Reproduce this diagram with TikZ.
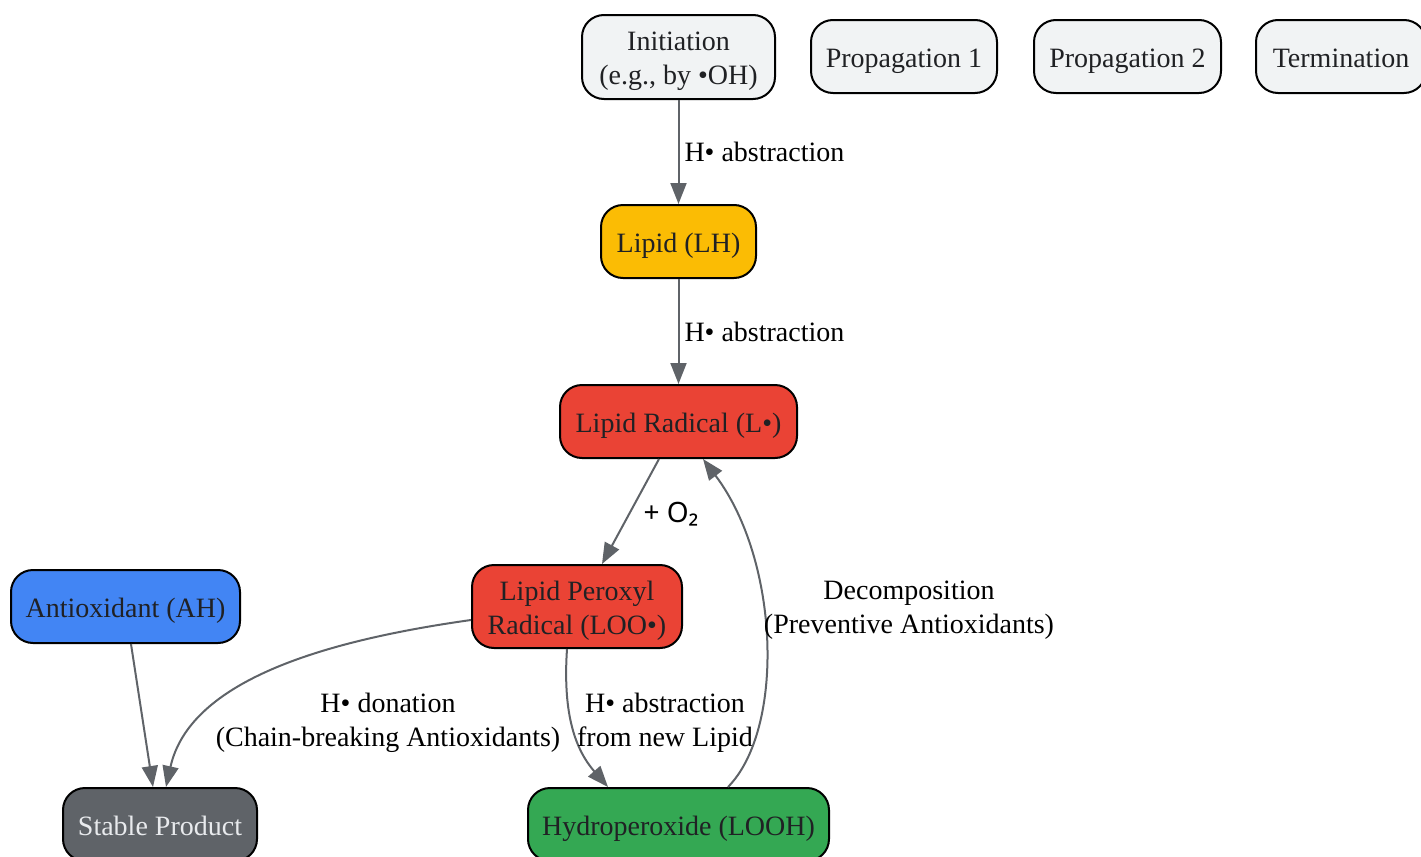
\documentclass[tikz,border=0pt]{standalone}
\usepackage{fontspec}
\setmainfont{Liberation Serif}
\newfontfamily\subsfont{Noto Sans}
\usepackage{tikz}
\usetikzlibrary{arrows.meta}
\definecolor{stagegray}{HTML}{F1F3F4}
\definecolor{nodetext}{HTML}{202124}
\definecolor{lipidyellow}{HTML}{FBBC04}
\definecolor{radicalred}{HTML}{EA4335}
\definecolor{antiblue}{HTML}{4285F4}
\definecolor{productgray}{HTML}{5F6368}
\definecolor{producttext}{HTML}{E8EAED}
\definecolor{hydrogreen}{HTML}{34A853}
\definecolor{edgegray}{HTML}{5F6368}
\tikzset{
  stage/.style={draw=black, line width=1pt, rounded corners=11pt, fill=stagegray,
    text=nodetext, align=center, minimum height=36.5pt, inner sep=0pt,
    text height=13.5pt, text depth=3pt},
  twoline/.style={text height=30.5pt, minimum height=42pt},
  flow/.style={draw=edgegray, line width=1pt,
    -{Triangle[length=10.5pt,width=8pt,fill=edgegray]}},
  flowlabel/.style={text=black, align=center, inner sep=2pt}
}
\begin{document}
\begin{tikzpicture}[x=0.5pt, y=-0.5pt, font=\fontsize{14}{17}\selectfont]
    \useasboundingbox (0,0) rectangle (1421,857);
    % legend row
    \node[stage, twoline, minimum width=96.5pt] (init) at (678.5,57) {Initiation\\(e.g., by •OH)};
    \node[stage, minimum width=93pt] (prop1) at (904,56.5) {Propagation 1};
    \node[stage, minimum width=93.5pt] (prop2) at (1127.5,56.5) {Propagation 2};
    \node[stage, minimum width=85pt] (term) at (1341,56.5) {Termination};
    % chain
    \node[stage, fill=lipidyellow, minimum width=77.5pt] (lh) at (678.5,241.5) {Lipid (LH)};
    \node[stage, fill=radicalred, minimum width=118.5pt] (lrad) at (678.5,421.5) {Lipid Radical (L•)};
    \node[stage, twoline, fill=radicalred, minimum width=105pt, minimum height=41.5pt] (loo) at (577,606.5) {Lipid Peroxyl\\Radical (LOO•)};
    \node[stage, fill=antiblue, minimum width=114.5pt] (ah) at (125.5,606.5) {Antioxidant (AH)};
    \node[stage, fill=productgray, text=producttext, minimum width=97pt] (stable) at (160,824.5) {Stable Product};
    \node[stage, fill=hydrogreen, minimum width=150.5pt] (looh) at (678.5,824.5) {Hydroperoxide (LOOH)};

    \draw[flow] (init) -- (lh) node[flowlabel, midway, right=0.5pt] (labinit) {H• abstraction};
    \draw[flow] (lh) -- (lrad) node[flowlabel, midway, right=0.5pt] (lablh) {H• abstraction};
    \draw[flow] ([xshift=-9.75pt]lrad.south) -- ([xshift=12.5pt]loo.north)
        node[flowlabel, midway, right=4pt, yshift=-1.5pt] (labox) {\subsfont + O₂};
    \draw[flow] ([xshift=-5pt]loo.south) .. controls +(-4,60) and +(-35,-40) .. ([xshift=-35.25pt]looh.north);
    \node[flowlabel] (labnew) at (665,723) {H• abstraction\\from new Lipid};
    \draw[flow] ([xshift=24.75pt]looh.north) .. controls +(57,-58) and +(77,102) .. ([xshift=12.25pt]lrad.south);
    \node[flowlabel] (labdec) at (909,610) {Decomposition\\(Preventive Antioxidants)};
    \draw[flow] ([yshift=-6.75pt]loo.west) .. controls +(-142,20) and +(24,-108) .. ([xshift=3pt]stable.north);
    \node[flowlabel] (labdon) at (388,723) {H• donation\\(Chain-breaking Antioxidants)};
    \draw[flow] ([xshift=2.75pt]ah.south) -- ([xshift=-3.5pt]stable.north);
\end{tikzpicture}
\end{document}
